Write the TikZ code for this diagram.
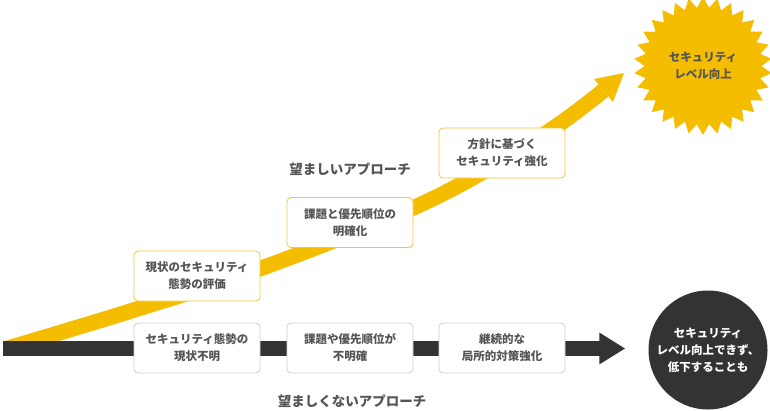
\documentclass[tikz,border=0pt]{standalone}
\usepackage{fontspec}
\setmainfont{Noto Sans CJK JP}
\usetikzlibrary{arrows.meta,shapes.geometric}
\definecolor{gold}{HTML}{F5BD00}
\definecolor{goldline}{HTML}{F4C63D}
\definecolor{greyline}{HTML}{CDCDCD}
\definecolor{ink}{HTML}{333333}
\definecolor{txt}{HTML}{555555}

\begin{document}
\begin{tikzpicture}[x=1pt,y=-1pt,
  font=\bfseries\fontsize{11.5}{17}\selectfont,
  stepbox/.style={draw,rounded corners=4pt,fill=white,line width=0.8pt,
    minimum width=126pt,minimum height=50pt,align=center,text=txt,inner sep=0pt},
  goodbox/.style={stepbox,draw=goldline},
  badbox/.style={stepbox,draw=greyline},
  caption/.style={text=txt,font=\bfseries\fontsize{13.5}{16}\selectfont}]
\useasboundingbox (0,0) rectangle (770,410);

% end points
\node[star,star points=30,star point ratio=1.18,fill=gold,minimum size=138pt,
  inner sep=0pt,text=txt,align=center] (gain) at (703,66) {セキュリティ\\レベル向上};
\node[circle,fill=ink,minimum size=119pt,inner sep=0pt,text=white,align=center]
  (fate) at (708,350) {セキュリティ\\レベル向上できず、\\低下することも};

% the two roads
\coordinate (rise) at (5,349);
\coordinate (base) at (3,348.5);
\coordinate (neck) at (603.5,90.5);
\coordinate (tip) at (624,73);
\draw[gold,line width=15.5pt]
  plot[smooth,tension=0.6] coordinates {(rise) (134,310) (262,268) (426,202) (540,137) (neck)};
\fill[gold] (594,79) -- (tip) -- (613,102) -- cycle;
\draw[ink,line width=15pt,-{Triangle[length=26pt,width=30pt]},shorten >=23pt]
  (base) -- (base -| fate.west);

% steps
\node[goodbox] (assess) at (197,276) {現状のセキュリティ\\態勢の評価};
\node[goodbox] (clarify) at (350,222.5) {課題と優先順位の\\明確化};
\node[goodbox] (harden) at (502,153) {方針に基づく\\セキュリティ強化};
\node[badbox] (unknown) at (197,348) {セキュリティ態勢の\\現状不明};
\node[badbox] (vague) at (350,348) {課題や優先順位が\\不明確};
\node[badbox] (patch) at (502,348) {継続的な\\局所的対策強化};

\node[caption] (goodlbl) at (350,169) {望ましいアプローチ};
\node[caption] (badlbl) at (352,401) {望ましくないアプローチ};
\end{tikzpicture}
\end{document}
